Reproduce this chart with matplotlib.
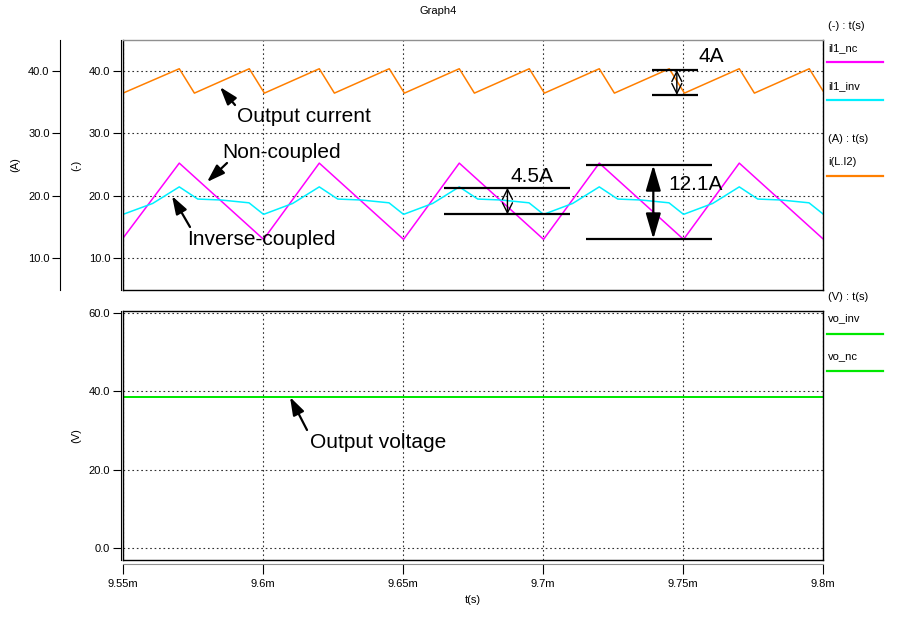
import matplotlib
matplotlib.use("Agg")
import matplotlib.pyplot as plt
from matplotlib.lines import Line2D

plt.rcParams['font.family'] = ['Liberation Sans', 'DejaVu Sans']

# ---------------- data (time in ms) ----------------
t_ticks = [9.55, 9.60, 9.65, 9.70, 9.75, 9.80]
t_tick_labels = ['9.55m', '9.6m', '9.65m', '9.7m', '9.75m', '9.8m']
i_ticks = [10, 20, 30, 40]
v_ticks = [0, 20, 40, 60]

# output current i(L.I2)
iout_t = [9.5500, 9.5701, 9.5755, 9.5951, 9.6005, 9.6201, 9.6255, 9.6451, 9.6505,
          9.6701, 9.6755, 9.6951, 9.7005, 9.7201, 9.7255, 9.7451, 9.7505, 9.7701,
          9.7755, 9.7951, 9.8005]
iout_v = [36.4, 40.3, 36.4, 40.3, 36.4, 40.3, 36.4, 40.3, 36.4,
          40.3, 36.4, 40.3, 36.4, 40.3, 36.4, 40.3, 36.4, 40.3,
          36.4, 40.3, 36.4]

# il1_nc (non-coupled)
inc_t = [9.5500, 9.5701, 9.6002, 9.6201, 9.6502, 9.6701, 9.7002, 9.7201, 9.7502,
         9.7701, 9.8002]
inc_v = [13.2, 25.2, 13.0, 25.2, 13.0, 25.2, 13.0, 25.2, 13.0, 25.2, 13.0]

# il1_inv (inverse-coupled)
iinv_t = [9.5500, 9.5606, 9.5701, 9.5767, 9.5850, 9.5950, 9.6002,
          9.6106, 9.6201, 9.6267, 9.6350, 9.6450, 9.6502,
          9.6606, 9.6701, 9.6767, 9.6850, 9.6950, 9.7002,
          9.7106, 9.7201, 9.7267, 9.7350, 9.7450, 9.7502,
          9.7606, 9.7701, 9.7767, 9.7850, 9.7950, 9.8002]
iinv_v = [17.0, 18.75, 21.4, 19.45, 19.3, 18.85, 17.0,
          18.75, 21.4, 19.45, 19.3, 18.85, 17.0,
          18.75, 21.4, 19.45, 19.3, 18.85, 17.0,
          18.75, 21.4, 19.45, 19.3, 18.85, 17.0,
          18.75, 21.4, 19.45, 19.3, 18.85, 17.0]

# output voltages
vo_t = [9.55, 9.80]
vo_inv_v = [38.5, 38.5]
vo_nc_v = [38.5, 38.5]

C_ORANGE = '#FF7F00'
C_MAG = '#FF00FF'
C_CYAN = '#00F0FF'
C_GREEN = '#00E800'

W, H = 901, 621
fig = plt.figure(figsize=(W / 100, H / 100), dpi=100)


def fx(px):
    return px / W


def fy(py):
    return 1 - py / H


ax1 = fig.add_axes([fx(123), fy(290), 700 / W, 250 / H])
ax2 = fig.add_axes([fx(123), fy(560), 700 / W, 249 / H])

grid_kw = dict(color='#303030', linestyle=(0, (1.5, 2.5)), linewidth=0.8)

for ax in (ax1, ax2):
    ax.set_xlim(9.55, 9.80)
    ax.set_xticks(t_ticks)
    ax.tick_params(bottom=False, labelbottom=False, left=False, labelleft=False,
                   top=False, right=False)
    ax.grid(True, **grid_kw)
    for s in ax.spines.values():
        s.set_linewidth(1.0)
        s.set_color('black')

ax1.spines['top'].set_color('#909090')

# top plot
ax1.set_ylim(4.9, 44.9)
ax1.set_yticks(i_ticks)
ax1.plot(iout_t, iout_v, color=C_ORANGE, lw=1.1, label='i(L.I2)')
ax1.plot(inc_t, inc_v, color=C_MAG, lw=1.1, label='il1_nc')
ax1.plot(iinv_t, iinv_v, color=C_CYAN, lw=1.1, label='il1_inv')

# bottom plot
ax2.set_ylim(-3.0, 60.5)
ax2.set_yticks(v_ticks)
ax2.plot(vo_t, vo_nc_v, color=C_GREEN, lw=1.3, label='vo_nc')
ax2.plot(vo_t, vo_inv_v, color=C_GREEN, lw=1.3, label='vo_inv')

tick_kw = dict(direction='out', length=6, width=0.8, labelsize=8, pad=1.5)

# secondary y axes
secA = ax1.secondary_yaxis(-0.09)
secA.set_yticks(i_ticks)
secA.set_yticklabels(['%.1f' % v for v in i_ticks])
secA.tick_params(**tick_kw)

secD = ax1.secondary_yaxis(-0.0035)
secD.set_yticks(i_ticks)
secD.set_yticklabels(['%.1f' % v for v in i_ticks])
secD.tick_params(**tick_kw)

secV = ax2.secondary_yaxis(-0.0035)
secV.set_yticks(v_ticks)
secV.set_yticklabels(['%.1f' % v for v in v_ticks])
secV.tick_params(**tick_kw)

# secondary x axis
secX = ax2.secondary_xaxis(-0.015)
secX.set_xticks(t_ticks)
secX.set_xticklabels(t_tick_labels)
secX.tick_params(direction='out', length=7, width=0.8, labelsize=8, pad=4)
secX.spines['bottom'].set_color('#909090')

# axis labels and title
small = dict(fontsize=8, color='black')
fig.text(fx(15), fy(165), '(A)', rotation=90, ha='center', va='center', **small)
fig.text(fx(76), fy(165), '(-)', rotation=90, ha='center', va='center', **small)
fig.text(fx(76), fy(436), '(V)', rotation=90, ha='center', va='center', **small)
fig.text(fx(473), fy(600), 't(s)', ha='center', va='center', **small)
fig.text(fx(438), fy(11), 'Graph4', ha='center', va='center', **small)

# legend panel on the right
leg_items = [
    ('text', '(-) : t(s)', 26),
    ('text', 'il1_nc', 48),
    ('line', C_MAG, 62),
    ('text', 'il1_inv', 86),
    ('line', C_CYAN, 100),
    ('text', '(A) : t(s)', 139),
    ('text', 'i(L.I2)', 162),
    ('line', C_ORANGE, 176),
    ('text', '(V) : t(s)', 297),
    ('text', 'vo_inv', 318),
    ('line', C_GREEN, 334),
    ('text', 'vo_nc', 356),
    ('line', C_GREEN, 371),
]
for kind, val, y in leg_items:
    if kind == 'text':
        fig.text(fx(828), fy(y), val, ha='left', va='center', **small)
    else:
        fig.add_artist(Line2D([fx(827), fx(883)], [fy(y), fy(y)], color=val,
                              lw=1.6, transform=fig.transFigure))

# text annotations with arrows (figure pixel coords)
big = dict(fontsize=15, color='black')
arrow_kw = dict(arrowstyle='-|>,head_length=0.9,head_width=0.3', color='black',
                lw=1.6, shrinkA=0, shrinkB=0)


def label_arrow(text, tx, ty, ax0, ay0, ax1_, ay1_):
    fig.text(fx(tx), fy(ty), text, ha='left', va='center', **big)
    fig.add_artist(matplotlib.patches.FancyArrowPatch(
        posA=(fx(ax0), fy(ay0)), posB=(fx(ax1_), fy(ay1_)),
        transform=fig.transFigure, mutation_scale=12, **arrow_kw))


label_arrow('Output current', 237, 117, 235, 105, 220, 87)
label_arrow('Non-coupled', 222, 153, 227, 163, 207, 182)
label_arrow('Inverse-coupled', 187, 240, 190, 227, 172, 196)
label_arrow('Output voltage', 310, 443, 307, 430, 290, 397)


# measurement brackets (data coords)
def bracket(ax, t0, t1, ylo, yhi, tarrow, filled):
    ax.plot([t0, t1], [yhi, yhi], color='black', lw=1.6, solid_capstyle='butt')
    ax.plot([t0, t1], [ylo, ylo], color='black', lw=1.6, solid_capstyle='butt')
    if filled:
        style = '<|-|>,head_length=1.3,head_width=0.38'
        lw = 1.6
    else:
        style = '<->,head_length=0.6,head_width=0.3'
        lw = 1.0
    ax.annotate('', xy=(tarrow, ylo), xytext=(tarrow, yhi),
                arrowprops=dict(arrowstyle=style, color='black', lw=lw,
                                shrinkA=0, shrinkB=0, mutation_scale=12))


bracket(ax1, 9.7389, 9.7554, 36.1, 40.1, 9.7478, False)
ax1.text(9.7556, 42.3, '4A', ha='left', va='center', **big)

bracket(ax1, 9.6646, 9.7096, 17.0, 21.25, 9.6873, False)
ax1.text(9.6885, 23.0, '4.5A', ha='left', va='center', **big)

bracket(ax1, 9.7154, 9.7605, 13.05, 24.9, 9.7394, True)
ax1.text(9.7448, 21.7, '12.1A', ha='left', va='center', **big)

fig.savefig('out.png', dpi=100)
